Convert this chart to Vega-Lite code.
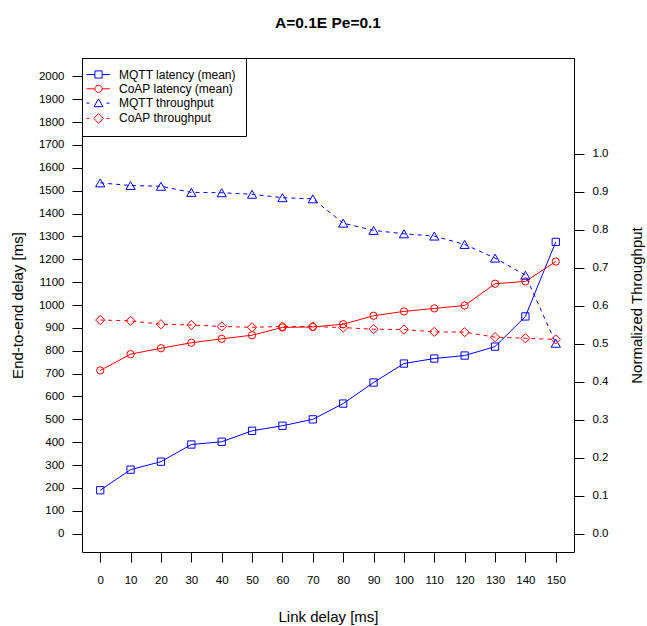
{
  "$schema": "https://vega.github.io/schema/vega-lite/v6.json",
  "width": 492,
  "height": 494,
  "autosize": {"type": "none"},
  "padding": {"left": 82, "top": 58, "right": 73, "bottom": 74},
  "background": "white",
  "config": {
    "font": "Liberation Sans",
    "view": {"stroke": "black", "strokeWidth": 1},
    "axis": {
      "grid": false, "domain": false, "tickColor": "black", "tickSize": 10, "tickWidth": 1,
      "labelColor": "black", "labelFontSize": 11.5, "labelFont": "Liberation Sans",
      "titleColor": "black", "titleFontSize": 15, "titleFontWeight": "normal", "titleFont": "Liberation Sans",
      "labelFlush": false, "labelOverlap": false, "labelBound": false
    },
    "legend": {
      "title": null, "orient": "top-left", "offset": 0, "padding": 10,
      "strokeColor": "black", "fillColor": "white",
      "labelFontSize": 12, "labelColor": "black", "labelFont": "Liberation Sans",
      "symbolSize": 144, "labelOffset": 14, "rowPadding": 1.3, "symbolStrokeWidth": 1,
      "symbolOpacity": 1, "symbolFillColor": "transparent"
    }
  },
  "title": {"text": "A=0.1E Pe=0.1", "fontSize": 15.5, "fontWeight": "bold", "anchor": "middle", "offset": 26, "color": "black", "font": "Liberation Sans"},
  "data": {"values": [
    {"delay": 0, "series": "MQTT latency (mean)", "value": 190},
    {"delay": 10, "series": "MQTT latency (mean)", "value": 280},
    {"delay": 20, "series": "MQTT latency (mean)", "value": 315},
    {"delay": 30, "series": "MQTT latency (mean)", "value": 390},
    {"delay": 40, "series": "MQTT latency (mean)", "value": 402},
    {"delay": 50, "series": "MQTT latency (mean)", "value": 450},
    {"delay": 60, "series": "MQTT latency (mean)", "value": 472},
    {"delay": 70, "series": "MQTT latency (mean)", "value": 500},
    {"delay": 80, "series": "MQTT latency (mean)", "value": 569},
    {"delay": 90, "series": "MQTT latency (mean)", "value": 661},
    {"delay": 100, "series": "MQTT latency (mean)", "value": 744},
    {"delay": 110, "series": "MQTT latency (mean)", "value": 766},
    {"delay": 120, "series": "MQTT latency (mean)", "value": 779},
    {"delay": 130, "series": "MQTT latency (mean)", "value": 818},
    {"delay": 140, "series": "MQTT latency (mean)", "value": 950},
    {"delay": 150, "series": "MQTT latency (mean)", "value": 1276},
    {"delay": 0, "series": "CoAP latency (mean)", "value": 714},
    {"delay": 10, "series": "CoAP latency (mean)", "value": 785},
    {"delay": 20, "series": "CoAP latency (mean)", "value": 811},
    {"delay": 30, "series": "CoAP latency (mean)", "value": 835},
    {"delay": 40, "series": "CoAP latency (mean)", "value": 852},
    {"delay": 50, "series": "CoAP latency (mean)", "value": 868},
    {"delay": 60, "series": "CoAP latency (mean)", "value": 902},
    {"delay": 70, "series": "CoAP latency (mean)", "value": 904},
    {"delay": 80, "series": "CoAP latency (mean)", "value": 916},
    {"delay": 90, "series": "CoAP latency (mean)", "value": 953},
    {"delay": 100, "series": "CoAP latency (mean)", "value": 972},
    {"delay": 110, "series": "CoAP latency (mean)", "value": 985},
    {"delay": 120, "series": "CoAP latency (mean)", "value": 998},
    {"delay": 130, "series": "CoAP latency (mean)", "value": 1093},
    {"delay": 140, "series": "CoAP latency (mean)", "value": 1103},
    {"delay": 150, "series": "CoAP latency (mean)", "value": 1190},
    {"delay": 0, "series": "MQTT throughput", "value": 0.924},
    {"delay": 10, "series": "MQTT throughput", "value": 0.917},
    {"delay": 20, "series": "MQTT throughput", "value": 0.915},
    {"delay": 30, "series": "MQTT throughput", "value": 0.899},
    {"delay": 40, "series": "MQTT throughput", "value": 0.898},
    {"delay": 50, "series": "MQTT throughput", "value": 0.894},
    {"delay": 60, "series": "MQTT throughput", "value": 0.885},
    {"delay": 70, "series": "MQTT throughput", "value": 0.882},
    {"delay": 80, "series": "MQTT throughput", "value": 0.818},
    {"delay": 90, "series": "MQTT throughput", "value": 0.799},
    {"delay": 100, "series": "MQTT throughput", "value": 0.790},
    {"delay": 110, "series": "MQTT throughput", "value": 0.784},
    {"delay": 120, "series": "MQTT throughput", "value": 0.762},
    {"delay": 130, "series": "MQTT throughput", "value": 0.726},
    {"delay": 140, "series": "MQTT throughput", "value": 0.681},
    {"delay": 150, "series": "MQTT throughput", "value": 0.502},
    {"delay": 0, "series": "CoAP throughput", "value": 0.563},
    {"delay": 10, "series": "CoAP throughput", "value": 0.561},
    {"delay": 20, "series": "CoAP throughput", "value": 0.552},
    {"delay": 30, "series": "CoAP throughput", "value": 0.550},
    {"delay": 40, "series": "CoAP throughput", "value": 0.546},
    {"delay": 50, "series": "CoAP throughput", "value": 0.544},
    {"delay": 60, "series": "CoAP throughput", "value": 0.546},
    {"delay": 70, "series": "CoAP throughput", "value": 0.546},
    {"delay": 80, "series": "CoAP throughput", "value": 0.543},
    {"delay": 90, "series": "CoAP throughput", "value": 0.539},
    {"delay": 100, "series": "CoAP throughput", "value": 0.538},
    {"delay": 110, "series": "CoAP throughput", "value": 0.532},
    {"delay": 120, "series": "CoAP throughput", "value": 0.531},
    {"delay": 130, "series": "CoAP throughput", "value": 0.518},
    {"delay": 140, "series": "CoAP throughput", "value": 0.515},
    {"delay": 150, "series": "CoAP throughput", "value": 0.512}
  ]},
  "layer": [
    {
      "transform": [{"filter": {"field": "series", "oneOf": ["MQTT latency (mean)", "CoAP latency (mean)"]}}],
      "encoding": {
        "x": {"field": "delay", "type": "quantitative",
              "scale": {"domain": [-6, 156], "nice": false, "zero": false},
              "axis": {"values": [0,10,20,30,40,50,60,70,80,90,100,110,120,130,140,150], "format": "d", "title": "Link delay [ms]", "labelPadding": 12, "titlePadding": 24}},
        "y": {"field": "value", "type": "quantitative",
              "scale": {"domain": [-80, 2080], "nice": false, "zero": false},
              "axis": {"values": [0,100,200,300,400,500,600,700,800,900,1000,1100,1200,1300,1400,1500,1600,1700,1800,1900,2000], "format": "d", "title": "End-to-end delay [ms]", "labelPadding": 8, "titlePadding": 13}},
        "color": {"field": "series", "type": "nominal",
                  "scale": {"domain": ["CoAP latency (mean)", "MQTT latency (mean)"], "range": ["#ff0000", "#0000ff"]},
                  "legend": null}
      },
      "layer": [
        {"mark": {"type": "line", "strokeWidth": 1}, "encoding": {}},
        {"mark": {"type": "point", "filled": false, "strokeWidth": 1, "opacity": 1, "size": 53},
         "encoding": {
           "shape": {"field": "series", "type": "nominal",
            "scale": {"domain": ["CoAP latency (mean)", "MQTT latency (mean)"], "range": ["circle", "square"]},
            "legend": null}
         }}
      ]
    },
    {
      "transform": [{"filter": {"field": "series", "oneOf": ["MQTT throughput", "CoAP throughput"]}}],
      "encoding": {
        "x": {"field": "delay", "type": "quantitative",
              "scale": {"domain": [-6, 156], "nice": false, "zero": false},
              "axis": {"values": [0,10,20,30,40,50,60,70,80,90,100,110,120,130,140,150], "format": "d", "title": "Link delay [ms]", "labelPadding": 12, "titlePadding": 24}},
        "y": {"field": "value", "type": "quantitative",
              "scale": {"domain": [-0.0474, 1.2526], "nice": false, "zero": false},
              "axis": {"orient": "right", "values": [0,0.1,0.2,0.3,0.4,0.5,0.6,0.7,0.8,0.9,1.0], "format": ".1f", "title": "Normalized Throughput", "titleAngle": 270, "labelPadding": 8, "titlePadding": 37}},
        "color": {"field": "series", "type": "nominal",
                  "scale": {"domain": ["CoAP throughput", "MQTT throughput"], "range": ["#ff0000", "#0000ff"]},
                  "legend": null}
      },
      "layer": [
        {"mark": {"type": "line", "strokeWidth": 1, "strokeDash": [4, 4]}, "encoding": {}},
        {"mark": {"type": "point", "filled": false, "strokeWidth": 1, "opacity": 1, "size": 85},
         "encoding": {"shape": {"field": "series", "type": "nominal",
            "scale": {"domain": ["CoAP throughput", "MQTT throughput"], "range": ["diamond", "triangle-up"]},
            "legend": null}}}
      ]
    },
    {
      "transform": [{"filter": {"field": "delay", "equal": 0}}],
      "mark": {"type": "point", "filled": false, "opacity": 0, "strokeWidth": 1},
      "encoding": {
        "color": {"field": "series", "type": "nominal",
                  "scale": {"domain": ["MQTT latency (mean)", "CoAP latency (mean)", "MQTT throughput", "CoAP throughput"], "range": ["#0000ff", "#ff0000", "#0000ff", "#ff0000"]}},
        "shape": {"field": "series", "type": "nominal",
                  "scale": {"domain": ["MQTT latency (mean)", "CoAP latency (mean)", "MQTT throughput", "CoAP throughput"],
                            "range": ["M-2,0H-0.6M0.6,0H1.9M-0.6,-0.6H0.6V0.6H-0.6Z", "M-2,0H-0.6M0.6,0H1.9M-0.6,0A0.6,0.6 0 1,0 0.6,0A0.6,0.6 0 1,0 -0.6,0Z", "M-2,0H-1.5M1.35,0H1.85M0,-0.7L0.75,0.6L-0.75,0.6Z", "M-2,0H-1.5M1.35,0H1.85M0,-0.8L0.8,0L0,0.8L-0.8,0Z"]}}
      }
    }
  ],
  "resolve": {"scale": {"y": "independent", "color": "independent", "shape": "independent"}}
}
